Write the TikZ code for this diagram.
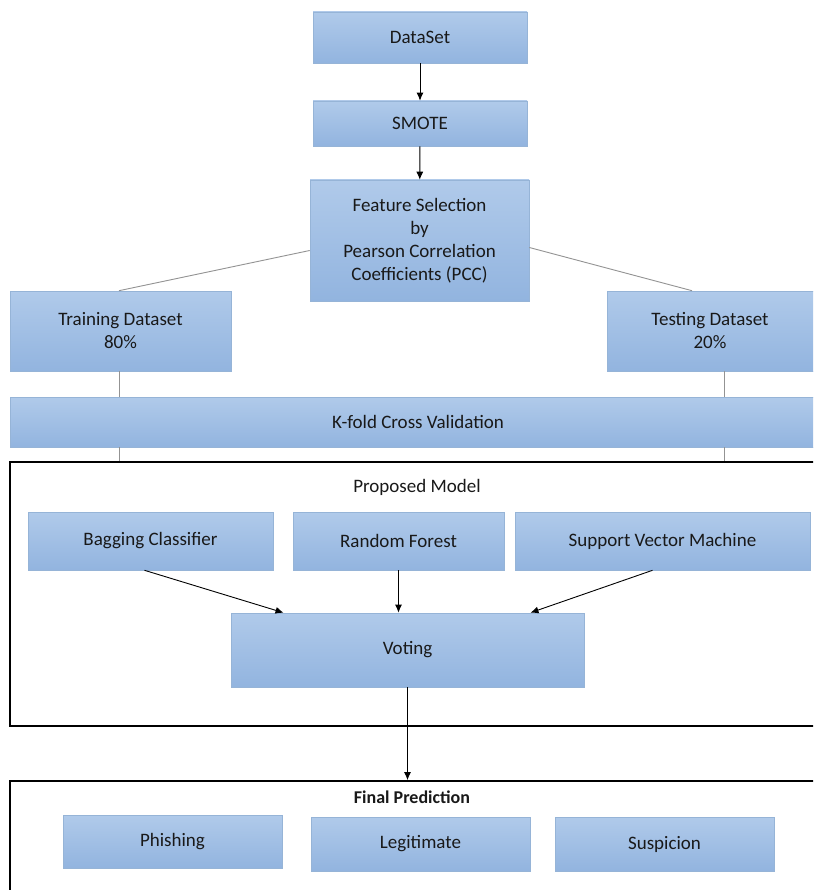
\documentclass[tikz,border=0pt]{standalone}
\usepackage{fontspec}
\setmainfont{Carlito}
\usetikzlibrary{arrows.meta,positioning}
\definecolor{boxtop}{RGB}{176,202,234}
\definecolor{boxbot}{RGB}{146,180,223}
\definecolor{boxedge}{RGB}{150,180,215}
\definecolor{txt}{RGB}{25,25,25}
\tikzset{
  bluebox/.style={draw=boxedge, line width=0.6pt, top color=boxtop, bottom color=boxbot,
    inner sep=0pt, align=center, text=txt, font=\fontsize{19}{23}\selectfont},
  frame/.style={draw=black, line width=1.8pt, inner sep=0pt},
  gline/.style={draw=gray!85, line width=0.9pt},
  arr/.style={draw=black, line width=0.9pt, -{Latex[length=8pt,width=7pt]}},
}
\begin{document}
\begin{tikzpicture}[x=1pt,y=-1pt]
\clip (0,0) rectangle (813,890);
\useasboundingbox (0,0) rectangle (813,890);
\fill[white] (0,0) rectangle (813,890);

% outer frames
\node[frame, minimum width=816pt, minimum height=264pt] (prop) at (418,594) {};
\node[frame, minimum width=816pt, minimum height=140pt] (fin) at (418,851) {};
\node[text=txt, font=\fontsize{19}{23}\selectfont] (proplbl) at (417,487) {Proposed Model};
\node[text=txt, font=\fontsize{18}{22}\selectfont\bfseries] (finlbl) at (412,797) {Final Prediction};

% boxes
\node[bluebox, minimum width=214pt, minimum height=51pt] (data) at (420,37.5) {DataSet};
\node[bluebox, minimum width=214pt, minimum height=45pt] (smote) at (420,123.5) {SMOTE};
\node[bluebox, minimum width=219pt, minimum height=121pt] (feat) at (419.5,240.5) {Feature Selection\\by\\Pearson Correlation\\Coefficients (PCC)};
\node[bluebox, minimum width=221pt, minimum height=80pt] (train) at (120.5,331) {Training Dataset\\80\%};
\node[bluebox, minimum width=234pt, minimum height=80pt] (test) at (724,331) {\hspace*{-28pt}Testing Dataset\\\hspace*{-28pt}20\%};
\node[bluebox, minimum width=816pt, minimum height=50pt] (kfold) at (418,422) {K-fold Cross Validation};

\node[bluebox, minimum width=245pt, minimum height=58pt] (bag) at (150.5,541) {Bagging Classifier};
\node[bluebox, minimum width=211pt, minimum height=58pt] (rf) at (398.5,541) {Random Forest};
\node[bluebox, minimum width=295pt, minimum height=58pt] (svm) at (662.5,541) {Support Vector Machine};
\node[bluebox, minimum width=353pt, minimum height=74pt] (vote) at (407.5,650) {Voting};

\node[bluebox, minimum width=219pt, minimum height=53pt] (phish) at (172.5,841.5) {Phishing};
\node[bluebox, minimum width=219pt, minimum height=54pt] (legit) at (420.5,844) {Legitimate};
\node[bluebox, minimum width=219pt, minimum height=54pt] (susp) at (664.5,844) {Suspicion};

% connectors
\draw[arr] (data) -- (smote);
\draw[arr] (smote) -- (feat);
\draw[gline] ([yshift=-10pt]feat.west) -- ([xshift=-1.5pt]train.north);
\draw[gline] ([yshift=-7pt]feat.east) -- ([xshift=-32pt]test.north);
\draw[gline] ([xshift=-1.5pt]train.south) -- ([xshift=-1.5pt]train.south |- kfold.north);
\draw[gline] (test.south) -- (test.south |- kfold.north);
\draw[gline] ([xshift=-1.5pt]train.south |- kfold.south) -- ([xshift=-1.5pt]train.south |- prop.north);
\draw[gline] (test.south |- kfold.south) -- (test.south |- prop.north);

\draw[arr] ([xshift=-6pt]bag.south) -- ([xshift=-124pt]vote.north);
\draw[arr] (rf.south) -- (rf.south |- vote.north);
\draw[arr] ([xshift=-10pt]svm.south) -- ([xshift=123pt]vote.north);
\draw[arr] (vote.south) -- (vote.south |- fin.north);
\end{tikzpicture}
\end{document}
